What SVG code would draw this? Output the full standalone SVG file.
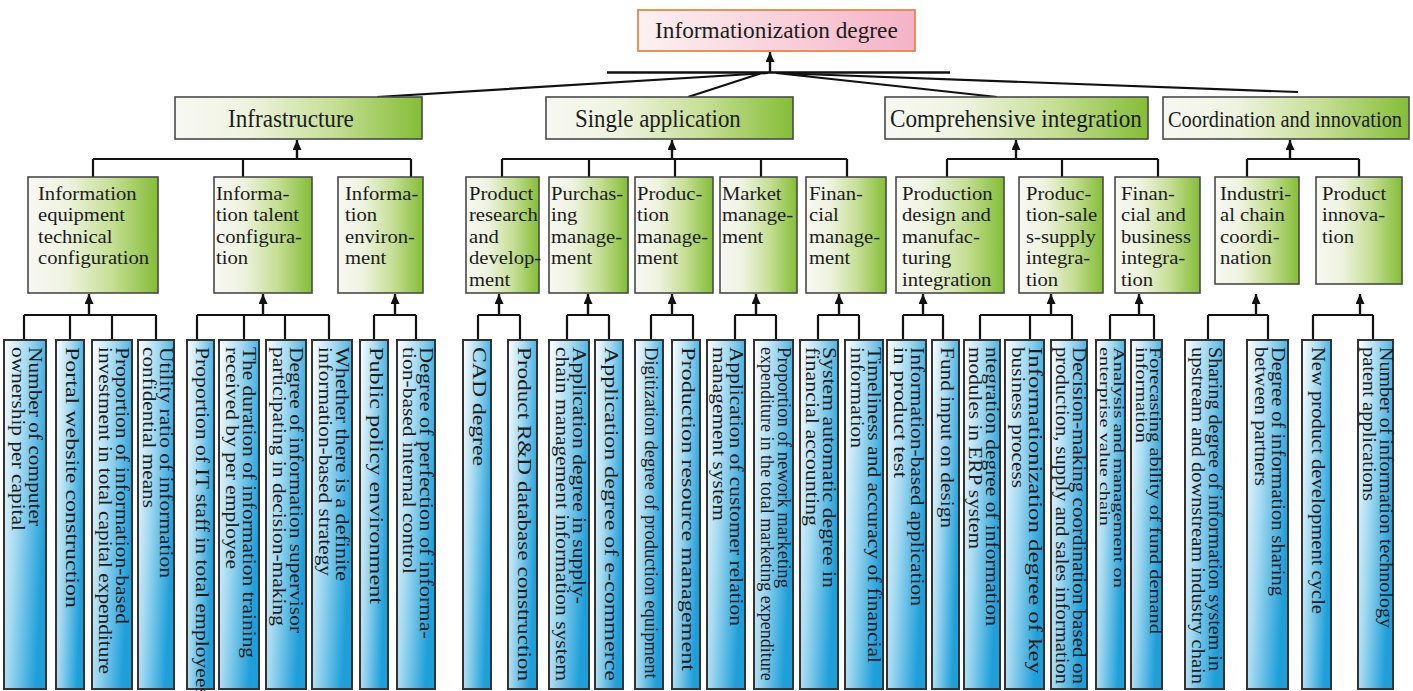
<svg xmlns="http://www.w3.org/2000/svg" width="1413" height="691" viewBox="0 0 1413 691">
<defs>
<linearGradient id="gGreen" x1="0" y1="0" x2="1" y2="0">
<stop offset="0" stop-color="#f8f8f3"/><stop offset="0.3" stop-color="#eef3df"/><stop offset="0.65" stop-color="#c5de93"/><stop offset="1" stop-color="#84bd37"/>
</linearGradient>
<linearGradient id="gBlue" x1="0" y1="0" x2="1" y2="0.5">
<stop offset="0" stop-color="#ffffff"/><stop offset="0.45" stop-color="#a6daf1"/><stop offset="1" stop-color="#1e9fd9"/>
</linearGradient>
<linearGradient id="gPink" x1="0" y1="0" x2="1" y2="0">
<stop offset="0" stop-color="#fdf1f1"/><stop offset="0.5" stop-color="#f9d2dc"/><stop offset="1" stop-color="#f5b2c6"/>
</linearGradient>
<marker id="ah" viewBox="0 0 10 9" refX="10" refY="4.5" markerWidth="10" markerHeight="9" markerUnits="userSpaceOnUse" orient="auto">
<path d="M0,0 L10,4.5 L0,9 z" fill="#111"/>
</marker>
<style>
.top{fill:url(#gPink);stroke:#e3884f;stroke-width:1.8}
.g{fill:url(#gGreen);stroke:#4a4a4a;stroke-width:1.6}
.lf{fill:url(#gBlue);stroke:#333;stroke-width:2}
.t{font-family:"Liberation Serif","Times New Roman",serif;fill:#1c1c1c}
.t2{font-size:25px}
.t3{font-size:19.3px}
.tl{font-size:19px}
.ln{stroke:#111;stroke-width:2.2;fill:none}
.ar{stroke:#111;stroke-width:2.4;fill:none;marker-end:url(#ah)}
</style>
</defs>

<g id="connectors">
<path class="ln" style="stroke-width:2.6" d="M607,72.5 H950"/>
<path class="ln" d="M377,97 L768,73 M688,97 L762,73 M776,73 L997,97 M776,73 L1298,92"/>
<path class="ar" d="M770,73 V52"/>
<path class="ln" d="M93,159 H411 M93,159 V177 M243,159 V177 M411,159 V177"/>
<path class="ar" d="M297,160 V140"/>
<path class="ln" d="M502,159 H847 M502,159 V177 M589,159 V177 M675,159 V177 M761,159 V177 M847,159 V177"/>
<path class="ar" d="M672,160 V140"/>
<path class="ln" d="M947,159 H1158 M947,159 V177 M1062,159 V177 M1158,159 V177"/>
<path class="ar" d="M1016,160 V140"/>
<path class="ln" d="M1247,159 H1359 M1247,159 V177 M1359,159 V177"/>
<path class="ar" d="M1290,160 V140"/>
<path class="ln" d="M24,315 H156 M24,315 V340 M70,315 V340 M112,315 V340 M156,315 V340"/>
<path class="ar" d="M89,316 V294"/>
<path class="ln" d="M197,315 H329 M197,315 V340 M244,315 V340 M285,315 V340 M329,315 V340"/>
<path class="ar" d="M263,316 V294"/>
<path class="ln" d="M374,315 H416 M374,315 V340 M416,315 V340"/>
<path class="ar" d="M395,316 V294"/>
<path class="ln" d="M478,315 H520 M478,315 V340 M520,315 V340"/>
<path class="ar" d="M499,316 V294"/>
<path class="ln" d="M567,315 H609 M567,315 V340 M609,315 V340"/>
<path class="ar" d="M588,316 V294"/>
<path class="ln" d="M651,315 H693 M651,315 V340 M693,315 V340"/>
<path class="ar" d="M672,316 V294"/>
<path class="ln" d="M735,315 H776 M735,315 V340 M776,315 V340"/>
<path class="ar" d="M756,316 V294"/>
<path class="ln" d="M818,315 H859 M818,315 V340 M859,315 V340"/>
<path class="ar" d="M839,316 V294"/>
<path class="ln" d="M903,315 H943 M903,315 V340 M943,315 V340"/>
<path class="ar" d="M923,316 V294"/>
<path class="ln" d="M980,315 H1072 M980,315 V340 M1030,315 V340 M1072,315 V340"/>
<path class="ar" d="M1051,316 V294"/>
<path class="ln" d="M1110,315 H1154 M1110,315 V340 M1154,315 V340"/>
<path class="ar" d="M1139,316 V294"/>
<path class="ln" d="M1208,315 H1268 M1208,315 V340 M1268,315 V340"/>
<path class="ar" d="M1256,316 V294"/>
<path class="ln" d="M1313,315 H1373 M1313,315 V340 M1373,315 V340"/>
<path class="ar" d="M1360,316 V294"/>
</g>

<g id="n-root"><rect class="top" x="638" y="10" width="277" height="41"/>
<text class="t" style="font-size:24px" transform="translate(655,38) scale(0.972,1)">Informationization degree</text></g>

<g id="n-infrastructure"><rect class="g" x="175" y="97" width="247" height="42"/>
<text class="t t2" transform="translate(228,127) scale(0.926,1)">Infrastructure</text></g>
<g id="n-single"><rect class="g" x="546" y="97" width="247" height="42"/>
<text class="t t2" transform="translate(575,127) scale(0.915,1)">Single application</text></g>
<g id="n-comprehensive"><rect class="g" x="885" y="97" width="263" height="42"/>
<text class="t t2" transform="translate(890,127) scale(0.928,1)">Comprehensive integration</text></g>
<g id="n-coordination"><rect class="g" x="1163" y="97" width="246" height="42"/>
<text class="t" style="font-size:24px" transform="translate(1168,127) scale(0.848,1)">Coordination and innovation</text></g>

<g id="n-infoequip"><rect class="g" x="28" y="177" width="130" height="116"/>
<text class="t t3" transform="translate(38,0) scale(1.07,1)"><tspan x="0" y="200">Information</tspan><tspan x="0" y="221.4">equipment</tspan><tspan x="0" y="242.8">technical</tspan><tspan x="0" y="264.2">configuration</tspan></text></g>
<g id="n-infotalent"><rect class="g" x="214" y="177" width="98" height="116"/>
<text class="t t3" transform="translate(216,0) scale(1.07,1)"><tspan x="0" y="200">Informa-</tspan><tspan x="0" y="221.4">tion talent</tspan><tspan x="0" y="242.8">configura-</tspan><tspan x="0" y="264.2">tion</tspan></text></g>
<g id="n-infoenv"><rect class="g" x="338" y="177" width="85" height="116"/>
<text class="t t3" transform="translate(345,0) scale(1.07,1)"><tspan x="0" y="200">Informa-</tspan><tspan x="0" y="221.4">tion</tspan><tspan x="0" y="242.8">environ-</tspan><tspan x="0" y="264.2">ment</tspan></text></g>
<g id="n-prodrd"><rect class="g" x="466" y="177" width="73" height="116"/>
<text class="t t3" transform="translate(469,0) scale(1.07,1)"><tspan x="0" y="200">Product</tspan><tspan x="0" y="221.4">research</tspan><tspan x="0" y="242.8">and</tspan><tspan x="0" y="264.2">develop-</tspan><tspan x="0" y="285.6">ment</tspan></text></g>
<g id="n-purchasing"><rect class="g" x="549" y="177" width="79" height="116"/>
<text class="t t3" transform="translate(551,0) scale(1.07,1)"><tspan x="0" y="200">Purchas-</tspan><tspan x="0" y="221.4">ing</tspan><tspan x="0" y="242.8">manage-</tspan><tspan x="0" y="264.2">ment</tspan></text></g>
<g id="n-production"><rect class="g" x="635" y="177" width="78" height="116"/>
<text class="t t3" transform="translate(637,0) scale(1.07,1)"><tspan x="0" y="200">Produc-</tspan><tspan x="0" y="221.4">tion</tspan><tspan x="0" y="242.8">manage-</tspan><tspan x="0" y="264.2">ment</tspan></text></g>
<g id="n-market"><rect class="g" x="720" y="177" width="77" height="116"/>
<text class="t t3" transform="translate(722,0) scale(1.07,1)"><tspan x="0" y="200">Market</tspan><tspan x="0" y="221.4">manage-</tspan><tspan x="0" y="242.8">ment</tspan></text></g>
<g id="n-financial"><rect class="g" x="806" y="177" width="80" height="116"/>
<text class="t t3" transform="translate(809,0) scale(1.07,1)"><tspan x="0" y="200">Finan-</tspan><tspan x="0" y="221.4">cial</tspan><tspan x="0" y="242.8">manage-</tspan><tspan x="0" y="264.2">ment</tspan></text></g>
<g id="n-proddesign"><rect class="g" x="896" y="177" width="108" height="116"/>
<text class="t t3" transform="translate(902,0) scale(1.07,1)"><tspan x="0" y="200">Production</tspan><tspan x="0" y="221.4">design and</tspan><tspan x="0" y="242.8">manufac-</tspan><tspan x="0" y="264.2">turing</tspan><tspan x="0" y="285.6">integration</tspan></text></g>
<g id="n-prodsales"><rect class="g" x="1019" y="177" width="84" height="116"/>
<text class="t t3" transform="translate(1026,0) scale(1.07,1)"><tspan x="0" y="200">Produc-</tspan><tspan x="0" y="221.4">tion-sale</tspan><tspan x="0" y="242.8">s-supply</tspan><tspan x="0" y="264.2">integra-</tspan><tspan x="0" y="285.6">tion</tspan></text></g>
<g id="n-finbiz"><rect class="g" x="1115" y="177" width="85" height="116"/>
<text class="t t3" transform="translate(1121,0) scale(1.07,1)"><tspan x="0" y="200">Finan-</tspan><tspan x="0" y="221.4">cial and</tspan><tspan x="0" y="242.8">business</tspan><tspan x="0" y="264.2">integra-</tspan><tspan x="0" y="285.6">tion</tspan></text></g>
<g id="n-industrial"><rect class="g" x="1215" y="177" width="84" height="107"/>
<text class="t t3" transform="translate(1220,0) scale(1.07,1)"><tspan x="0" y="200">Industri-</tspan><tspan x="0" y="221.4">al chain</tspan><tspan x="0" y="242.8">coordi-</tspan><tspan x="0" y="264.2">nation</tspan></text></g>
<g id="n-prodinnov"><rect class="g" x="1316" y="177" width="86" height="107"/>
<text class="t t3" transform="translate(1322,0) scale(1.07,1)"><tspan x="0" y="200">Product</tspan><tspan x="0" y="221.4">innova-</tspan><tspan x="0" y="242.8">tion</tspan></text></g>

<g id="leaf01"><rect class="lf" x="4" y="340" width="42" height="349"/>
<text class="t tl" transform="translate(29.2,347) rotate(90)" textLength="179" lengthAdjust="spacingAndGlyphs">Number of computer</text>
<text class="t tl" transform="translate(12.2,347) rotate(90)" textLength="184" lengthAdjust="spacingAndGlyphs">ownership per capital</text></g>
<g id="leaf02"><rect class="lf" x="56" y="340" width="28" height="349"/>
<text class="t tl" transform="translate(65.7,347) rotate(90)" textLength="261" lengthAdjust="spacingAndGlyphs">Portal website construction</text></g>
<g id="leaf03"><rect class="lf" x="92" y="340" width="40" height="349"/>
<text class="t tl" transform="translate(116.2,347) rotate(90)" textLength="277" lengthAdjust="spacingAndGlyphs">Proportion of information-based</text>
<text class="t tl" transform="translate(99.2,347) rotate(90)" textLength="327" lengthAdjust="spacingAndGlyphs">investment in total capital expenditure</text></g>
<g id="leaf04"><rect class="lf" x="138" y="340" width="36" height="349"/>
<text class="t tl" transform="translate(160.2,347) rotate(90)" textLength="231" lengthAdjust="spacingAndGlyphs">Utility ratio of information</text>
<text class="t tl" transform="translate(143.2,347) rotate(90)" textLength="161" lengthAdjust="spacingAndGlyphs">confidential means</text></g>
<g id="leaf05"><rect class="lf" x="187" y="340" width="27" height="349"/>
<text class="t tl" transform="translate(196.2,347) rotate(90)" textLength="349" lengthAdjust="spacingAndGlyphs">Proportion of IT staff in total employees</text></g>
<g id="leaf06"><rect class="lf" x="219" y="340" width="40" height="349"/>
<text class="t tl" transform="translate(243.2,347) rotate(90)" textLength="311" lengthAdjust="spacingAndGlyphs">The duration of information training</text>
<text class="t tl" transform="translate(226.2,347) rotate(90)" textLength="222" lengthAdjust="spacingAndGlyphs">received by per employee</text></g>
<g id="leaf07"><rect class="lf" x="266" y="340" width="40" height="349"/>
<text class="t tl" transform="translate(290.2,347) rotate(90)" textLength="286" lengthAdjust="spacingAndGlyphs">Degree of information supervisor</text>
<text class="t tl" transform="translate(273.2,347) rotate(90)" textLength="279" lengthAdjust="spacingAndGlyphs">participating in decision-making</text></g>
<g id="leaf08"><rect class="lf" x="312" y="340" width="40" height="349"/>
<text class="t tl" transform="translate(336.2,347) rotate(90)" textLength="234" lengthAdjust="spacingAndGlyphs">Whether there is a definite</text>
<text class="t tl" transform="translate(319.2,347) rotate(90)" textLength="229" lengthAdjust="spacingAndGlyphs">information-based strategy</text></g>
<g id="leaf09"><rect class="lf" x="360" y="340" width="28" height="349"/>
<text class="t tl" transform="translate(369.7,347) rotate(90)" textLength="257" lengthAdjust="spacingAndGlyphs">Public policy environment</text></g>
<g id="leaf10"><rect class="lf" x="397" y="340" width="38" height="349"/>
<text class="t tl" transform="translate(420.2,347) rotate(90)" textLength="292" lengthAdjust="spacingAndGlyphs">Degree of perfection of informa-</text>
<text class="t tl" transform="translate(403.2,347) rotate(90)" textLength="227" lengthAdjust="spacingAndGlyphs">tion-based internal control</text></g>
<g id="leaf11"><rect class="lf" x="463" y="340" width="28" height="349"/>
<text class="t tl" transform="translate(472.7,347) rotate(90)" textLength="119" lengthAdjust="spacingAndGlyphs">CAD degree</text></g>
<g id="leaf12"><rect class="lf" x="508" y="340" width="29" height="349"/>
<text class="t tl" transform="translate(518.2,347) rotate(90)" textLength="334" lengthAdjust="spacingAndGlyphs">Product R&amp;D database construction</text></g>
<g id="leaf13"><rect class="lf" x="549" y="340" width="40" height="349"/>
<text class="t tl" transform="translate(573.2,347) rotate(90)" textLength="257" lengthAdjust="spacingAndGlyphs">Application degree in supply-</text>
<text class="t tl" transform="translate(556.2,347) rotate(90)" textLength="334" lengthAdjust="spacingAndGlyphs">chain management information system</text></g>
<g id="leaf14"><rect class="lf" x="595" y="340" width="28" height="349"/>
<text class="t tl" transform="translate(604.7,347) rotate(90)" textLength="334" lengthAdjust="spacingAndGlyphs">Application degree of e-commerce</text></g>
<g id="leaf15"><rect class="lf" x="635" y="340" width="28" height="349"/>
<text class="t tl" transform="translate(644.7,347) rotate(90) scale(0.98,1)">Digitization degree of production equipment</text></g>
<g id="leaf16"><rect class="lf" x="672" y="340" width="28" height="349"/>
<text class="t tl" transform="translate(681.7,347) rotate(90)" textLength="324" lengthAdjust="spacingAndGlyphs">Production resource management</text></g>
<g id="leaf17"><rect class="lf" x="707" y="340" width="38" height="349"/>
<text class="t tl" transform="translate(730.2,347) rotate(90)" textLength="279" lengthAdjust="spacingAndGlyphs">Application of customer relation</text>
<text class="t tl" transform="translate(713.2,347) rotate(90)" textLength="174" lengthAdjust="spacingAndGlyphs">management system</text></g>
<g id="leaf18"><rect class="lf" x="754" y="340" width="39" height="349"/>
<text class="t tl" transform="translate(777.7,347) rotate(90)" textLength="241" lengthAdjust="spacingAndGlyphs">Proportion of nework marketing</text>
<text class="t tl" transform="translate(760.7,347) rotate(90) scale(0.949,1)">expenditure in the total marketing expenditure</text></g>
<g id="leaf19"><rect class="lf" x="800" y="340" width="38" height="349"/>
<text class="t tl" transform="translate(823.2,347) rotate(90)" textLength="241" lengthAdjust="spacingAndGlyphs">System automatic degree in</text>
<text class="t tl" transform="translate(806.2,347) rotate(90)" textLength="179" lengthAdjust="spacingAndGlyphs">financial accounting</text></g>
<g id="leaf20"><rect class="lf" x="845" y="340" width="38" height="349"/>
<text class="t tl" transform="translate(868.2,347) rotate(90)" textLength="316" lengthAdjust="spacingAndGlyphs">Timeliness and accuracy of financial</text>
<text class="t tl" transform="translate(851.2,347) rotate(90)" textLength="101" lengthAdjust="spacingAndGlyphs">information</text></g>
<g id="leaf21"><rect class="lf" x="887" y="340" width="39" height="349"/>
<text class="t tl" transform="translate(910.7,347) rotate(90)" textLength="259" lengthAdjust="spacingAndGlyphs">Information-based application</text>
<text class="t tl" transform="translate(893.7,347) rotate(90)" textLength="131" lengthAdjust="spacingAndGlyphs">in product test</text></g>
<g id="leaf22"><rect class="lf" x="932" y="340" width="27" height="349"/>
<text class="t tl" transform="translate(941.2,347) rotate(90)" textLength="181" lengthAdjust="spacingAndGlyphs">Fund input on design</text></g>
<g id="leaf23"><rect class="lf" x="964" y="340" width="36" height="349"/>
<text class="t tl" transform="translate(986.2,347) rotate(90)" textLength="279" lengthAdjust="spacingAndGlyphs">ntegration degree of information</text>
<text class="t tl" transform="translate(969.2,347) rotate(90)" textLength="202" lengthAdjust="spacingAndGlyphs">modules in ERP system</text></g>
<g id="leaf24"><rect class="lf" x="1005" y="340" width="39" height="349"/>
<text class="t tl" transform="translate(1028.7,347) rotate(90)" textLength="327" lengthAdjust="spacingAndGlyphs">Informationization degree of key</text>
<text class="t tl" transform="translate(1011.7,347) rotate(90)" textLength="141" lengthAdjust="spacingAndGlyphs">business process</text></g>
<g id="leaf25"><rect class="lf" x="1051" y="340" width="36" height="349"/>
<text class="t tl" transform="translate(1073.2,347) rotate(90)" textLength="337" lengthAdjust="spacingAndGlyphs">Decision-making coordination based on</text>
<text class="t tl" transform="translate(1056.2,347) rotate(90)" textLength="337" lengthAdjust="spacingAndGlyphs">production, supply and sales information</text></g>
<g id="leaf26"><rect class="lf" x="1096" y="340" width="29" height="349"/>
<text class="t" style="font-size:15.2px" transform="translate(1113.9,347) rotate(90)" textLength="241" lengthAdjust="spacingAndGlyphs">Analysis and management on</text>
<text class="t" style="font-size:15.2px" transform="translate(1100.2,347) rotate(90)" textLength="179" lengthAdjust="spacingAndGlyphs">enterprise value chain</text></g>
<g id="leaf27"><rect class="lf" x="1131" y="340" width="31" height="349"/>
<text class="t" style="font-size:16.4px" transform="translate(1150.2,347) rotate(90)" textLength="287" lengthAdjust="spacingAndGlyphs">Forecasting ability of fund demand</text>
<text class="t" style="font-size:16.4px" transform="translate(1135.5,347) rotate(90)" textLength="96" lengthAdjust="spacingAndGlyphs">information</text></g>
<g id="leaf28"><rect class="lf" x="1185" y="340" width="39" height="349"/>
<text class="t tl" transform="translate(1208.7,347) rotate(90)" textLength="324" lengthAdjust="spacingAndGlyphs">Sharing degree of information system in</text>
<text class="t tl" transform="translate(1191.7,347) rotate(90)" textLength="337" lengthAdjust="spacingAndGlyphs">upstream and downstream industry chain</text></g>
<g id="leaf29"><rect class="lf" x="1247" y="340" width="41" height="349"/>
<text class="t tl" transform="translate(1271.7,347) rotate(90)" textLength="249" lengthAdjust="spacingAndGlyphs">Degree of information sharing</text>
<text class="t tl" transform="translate(1254.7,347) rotate(90)" textLength="139" lengthAdjust="spacingAndGlyphs">between partners</text></g>
<g id="leaf30"><rect class="lf" x="1302" y="340" width="29" height="349"/>
<text class="t tl" transform="translate(1312.2,347) rotate(90)" textLength="267" lengthAdjust="spacingAndGlyphs">New product development cycle</text></g>
<g id="leaf31"><rect class="lf" x="1358" y="340" width="35" height="349"/>
<text class="t" style="font-size:18.6px" transform="translate(1379.7,347) rotate(90)" textLength="281" lengthAdjust="spacingAndGlyphs">Number of information technology</text>
<text class="t" style="font-size:18.6px" transform="translate(1363,347) rotate(90)" textLength="154" lengthAdjust="spacingAndGlyphs">patent applications</text></g>
</svg>
